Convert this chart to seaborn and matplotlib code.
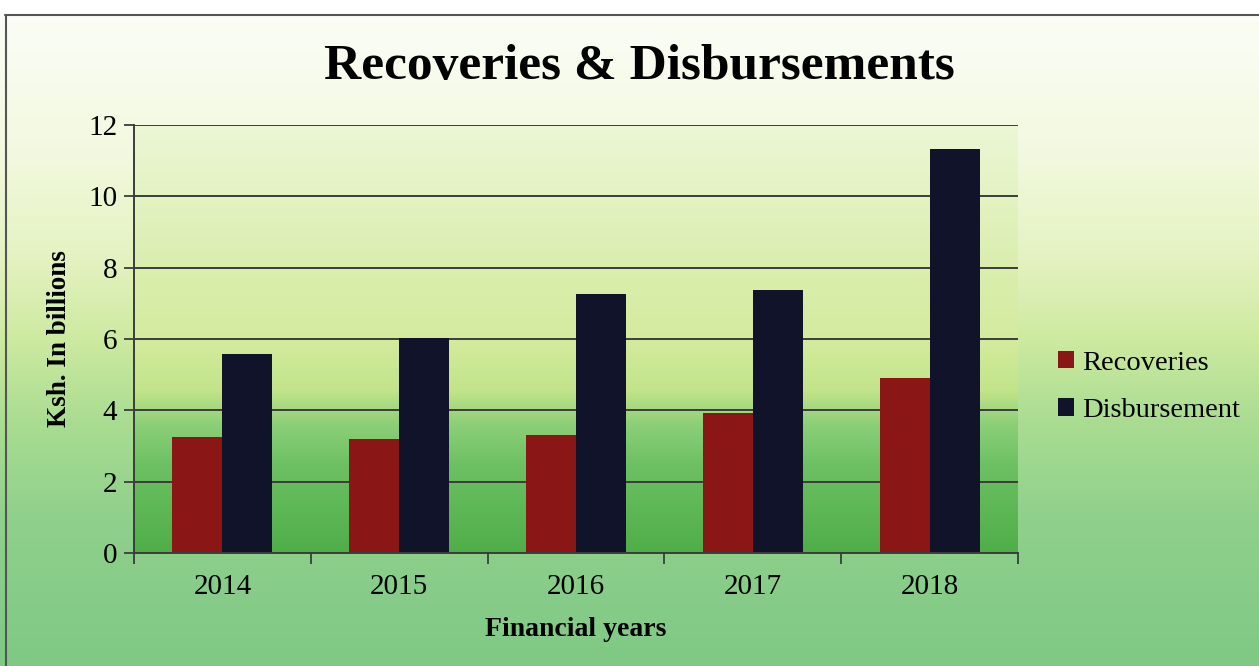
import pandas as pd
import seaborn as sns
import matplotlib.pyplot as plt
import numpy as np
from matplotlib.colors import to_rgb

# data
years = ['2014', '2015', '2016', '2017', '2018']
recoveries = [3.26, 3.2, 3.3, 3.92, 4.92]
disbursement = [5.57, 6.02, 7.25, 7.37, 11.32]
series_names = ['Recoveries', 'Disbursement']
bar_colors = ['#8a1616', '#10132a']

df = pd.DataFrame({
    'year': years * 2,
    'value': recoveries + disbursement,
    'series': [series_names[0]] * len(years) + [series_names[1]] * len(years),
})

sns.set_style('white')
plt.rcParams['font.family'] = ['Liberation Serif', 'DejaVu Serif']
plt.rcParams['text.color'] = 'black'
plt.rcParams['axes.labelcolor'] = 'black'
plt.rcParams['xtick.color'] = 'black'
plt.rcParams['ytick.color'] = 'black'

W, H = 1259, 666
fig = plt.figure(figsize=(W / 100, H / 100), dpi=100)


def gradient(stops, n):
    # stops: list of (pos 0..1, color)
    pos = np.array([s[0] for s in stops])
    cols = np.array([to_rgb(s[1]) for s in stops])
    t = np.linspace(0, 1, n)
    img = np.stack([np.interp(t, pos, cols[:, i]) for i in range(3)], axis=1)
    return img[:, None, :]


# outer chart background
bg = fig.add_axes([0, 0, 1, 1], zorder=-3)
outer = gradient([
    (0.0, '#ffffff'), (15 / H, '#ffffff'), (16 / H, '#fbfdf6'),
    (150 / H, '#f3f9e0'), (260 / H, '#e4f2c0'), (340 / H, '#cdeaa0'),
    (420 / H, '#aadd92'), (520 / H, '#8fd08c'), (1.0, '#7fc985'),
], 400)
bg.imshow(outer, aspect='auto', extent=[0, 1, 1, 0])
bg.set_xlim(0, 1)
bg.set_ylim(1, 0)
bg.axis('off')
# frame lines
bg.plot([5 / W, 1], [15 / H, 15 / H], color='#555555', lw=1.5)
bg.plot([6 / W, 6 / W], [15 / H, 1], color='#555555', lw=1.5)

left, right, top, bottom = 134 / W, 1018 / W, 1 - 125 / H, 1 - 553 / H
rect = [left, bottom, right - left, top - bottom]

# plot area background
pbg = fig.add_axes(rect, zorder=-2)
inner = gradient([
    (0.0, '#ecf7d6'), (0.3, '#dcefb2'), (0.5, '#d4eb9e'), (0.62, '#c2e48a'),
    (0.7, '#8ccf78'), (0.8, '#6cc062'), (1.0, '#4fae48'),
], 400)
pbg.imshow(inner, aspect='auto', extent=[0, 1, 1, 0])
pbg.set_xlim(0, 1)
pbg.set_ylim(1, 0)
pbg.axis('off')

ax = fig.add_axes(rect, zorder=0)
ax.patch.set_alpha(0)
sns.barplot(data=df, x='year', y='value', hue='series', palette=bar_colors,
            width=0.566, saturation=1, ax=ax, legend=True,
            edgecolor='none', linewidth=0)

ax.set_ylim(0, 12)
ax.set_xlim(-0.5, 4.5)
ax.set_yticks(range(0, 13, 2))
ax.yaxis.grid(True, color='#3c3c3c', lw=1.4)
ax.set_axisbelow(True)

for s in ['top', 'right']:
    ax.spines[s].set_visible(False)
for s in ['left', 'bottom']:
    ax.spines[s].set_color('#3c3c3c')
    ax.spines[s].set_linewidth(1.4)

ax.tick_params(axis='y', which='major', length=7, width=1.3, color='#3c3c3c',
               direction='out', labelsize=21, pad=5, left=True)
ax.tick_params(axis='x', which='major', length=0, labelsize=21, pad=15)
ax.set_xticks(np.arange(-0.5, 5, 1), minor=True)
ax.tick_params(axis='x', which='minor', length=8, width=1.3, color='#3c3c3c',
               direction='out', bottom=True)

ax.set_xlabel('Financial years', fontsize=20, fontweight='bold', labelpad=12)
ax.set_ylabel('Ksh. In billions', fontsize=19.5, fontweight='bold', labelpad=12)

fig.text(0.5075, 1 - 67 / H, 'Recoveries & Disbursements', ha='center', va='center',
         fontsize=37, fontweight='bold')

ax.legend(loc='center left', bbox_to_anchor=(1058 / W, 1 - 387 / H),
          bbox_transform=fig.transFigure, frameon=False, fontsize=20.5,
          handlelength=0.55, handleheight=0.55, handletextpad=0.3,
          labelspacing=0.78, borderpad=0, borderaxespad=0, title=None)

fig.savefig('out.png', dpi=100)
